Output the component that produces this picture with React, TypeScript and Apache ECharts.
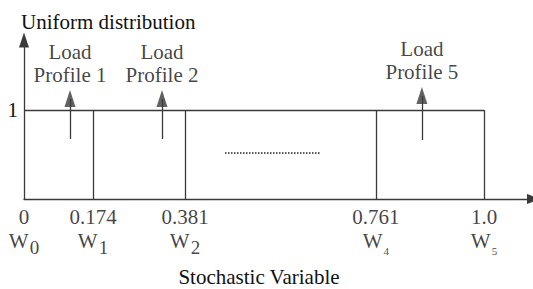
import React, { useEffect, useRef } from "react";
import * as echarts from "echarts";

// Boundaries of the intervals (drawn position on the stochastic-variable axis) and their printed values
const boundaryPos = [0, 0.15, 0.35, 0.765, 1.0];
const boundaryLabels = ["0", "0.174", "0.381", "0.761", "1.0"];
const weightSubs = ["0", "1", "2", "4", "5"];
// Uniform density value
const densityValue = 1;
// Load profile arrows
const profileNames = ["Load\nProfile 1", "Load\nProfile 2", "Load\nProfile 5"];
const profilePos = [0.1, 0.3, 0.865];
const arrowBase = [0.675, 0.675, 0.665];
const arrowTip = [1.226, 1.226, 1.26];
const profileLabelY = [1.52, 1.52, 1.555];
// Ellipsis (dotted) marker between profile 2 and profile 5
const ellipsisX = [0.437, 0.643];
const ellipsisY = 0.517;

const FONT = "Liberation Serif";
const INK = "#3a3a3a";
const TXT = "#111";

export default function App() {
  const ref = useRef<HTMLDivElement>(null);
  useEffect(() => {
    if (!ref.current) return;
    const chart = echarts.init(ref.current, undefined, { renderer: "svg" });

    const rectSegments: any[] = [];
    rectSegments.push({ coords: [[0, densityValue], [boundaryPos[boundaryPos.length - 1], densityValue]] });
    boundaryPos.slice(1).forEach((p) => {
      rectSegments.push({ coords: [[p, 0], [p, densityValue]] });
    });
    const shafts = profilePos.map((p, i) => ({ coords: [[p, arrowBase[i]], [p, arrowTip[i] - 0.1]] }));

    chart.setOption({
      animation: false,
      textStyle: { fontFamily: FONT },
      grid: { left: 24, right: 3, top: 39, bottom: 90 },
      xAxis: {
        type: "value",
        min: 0,
        max: 1.1,
        axisLine: {
          show: true,
          lineStyle: { color: INK, width: 1.3 },
          symbol: ["none", "triangle"],
          symbolSize: [10, 14],
          symbolOffset: [0, 4],
        },
        axisTick: { show: false },
        axisLabel: { show: false },
        splitLine: { show: false },
      },
      yAxis: {
        type: "value",
        min: 0,
        max: 1.8,
        interval: 1,
        axisLine: {
          show: true,
          lineStyle: { color: INK, width: 1.3 },
          symbol: ["none", "triangle"],
          symbolSize: [10, 15],
          symbolOffset: [0, -1],
        },
        axisTick: { show: false },
        axisLabel: {
          show: true,
          margin: 6,
          color: TXT,
          fontFamily: FONT,
          fontSize: 21,
          formatter: (v: number) => (v === densityValue ? String(densityValue) : ""),
        },
        splitLine: { show: false },
      },
      graphic: [
        {
          type: "text",
          left: 21,
          top: 11,
          style: { text: "Uniform distribution", font: `21px "${FONT}"`, fill: TXT },
        },
        {
          type: "text",
          x: 259,
          y: 277,
          style: {
            text: "Stochastic Variable",
            font: `21px "${FONT}"`,
            fill: TXT,
            textAlign: "center",
            textVerticalAlign: "middle",
          },
        },
      ],
      series: [
        {
          type: "lines",
          coordinateSystem: "cartesian2d",
          polyline: false,
          silent: true,
          lineStyle: { color: INK, width: 1.3, opacity: 1 },
          data: rectSegments,
        },
        {
          type: "lines",
          coordinateSystem: "cartesian2d",
          silent: true,
          lineStyle: { color: INK, width: 1.3, opacity: 1 },
          data: shafts,
        },
        {
          type: "lines",
          coordinateSystem: "cartesian2d",
          silent: true,
          lineStyle: { color: "#222", width: 1.5, type: [1.5, 1.5], opacity: 1 },
          data: [{ coords: [[ellipsisX[0], ellipsisY], [ellipsisX[1], ellipsisY]] }],
        },
        {
          type: "scatter",
          silent: true,
          symbol: "triangle",
          symbolSize: [11, 17],
          symbolOffset: [0, 8.5],
          itemStyle: { color: INK },
          data: profilePos.map((p, i) => [p, arrowTip[i]]),
        },
        {
          type: "scatter",
          silent: true,
          symbolSize: 0,
          data: profilePos.map((p, i) => ({ value: [p, profileLabelY[i]], name: profileNames[i] })),
          label: {
            show: true,
            position: "inside",
            formatter: (p: any) => p.name,
            color: TXT,
            fontFamily: FONT,
            fontSize: 21,
            lineHeight: 23,
            align: "center",
          },
        },
        {
          type: "scatter",
          silent: true,
          symbolSize: 0,
          data: boundaryPos.map((p, i) => ({ value: [p, 0], name: boundaryLabels[i] })),
          label: {
            show: true,
            position: "bottom",
            distance: 8,
            formatter: (p: any) => p.name,
            color: TXT,
            fontFamily: FONT,
            fontSize: 21,
            lineHeight: 20,
            align: "center",
          },
        },
        {
          type: "scatter",
          silent: true,
          symbolSize: 0,
          data: boundaryPos.map((p, i) => ({ value: [p, 0], name: weightSubs[i] })),
          label: {
            show: true,
            position: "bottom",
            distance: 31,
            formatter: (p: any) => {
              const small = p.dataIndex >= 3;
              return `{w|W}{${small ? "ss" : "sb"}|${p.name}}`;
            },
            color: TXT,
            fontFamily: FONT,
            fontSize: 21,
            align: "center",
            rich: {
              w: { fontFamily: FONT, fontSize: 21, lineHeight: 20, verticalAlign: "top", color: TXT },
              sb: { fontFamily: FONT, fontSize: 19, lineHeight: 18, verticalAlign: "top", padding: [8, 0, 0, 1], color: TXT },
              ss: { fontFamily: FONT, fontSize: 11, lineHeight: 11, verticalAlign: "top", padding: [15, 0, 0, 1], color: TXT },
            },
          },
        },
      ],
    });
    return () => chart.dispose();
  }, []);
  return <div ref={ref} style={{ width: 533, height: 289, position: "absolute", left: 0, top: 0, background: "#fff" }} />;
}
